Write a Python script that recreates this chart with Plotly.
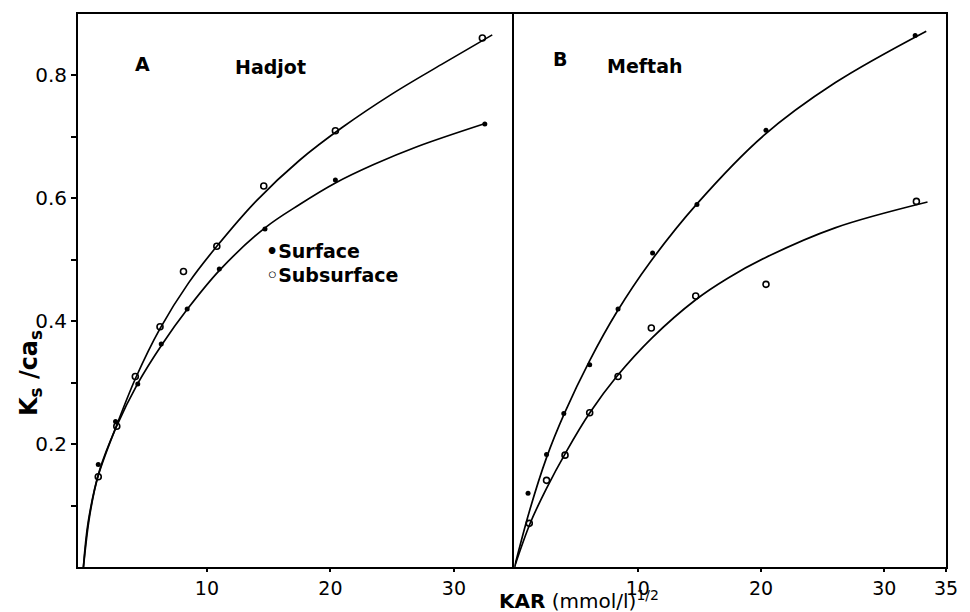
import plotly.graph_objects as go
from plotly.subplots import make_subplots

# ---------------- data ----------------
# Panel A : Hadjot
hadjot_surface_x = [1.2, 2.6, 4.4, 6.3, 8.4, 11.0, 14.7, 20.4, 32.5]
hadjot_surface_y = [0.167, 0.237, 0.298, 0.363, 0.42, 0.485, 0.55, 0.63, 0.721]
hadjot_subsurface_x = [1.2, 2.7, 4.2, 6.2, 8.1, 10.8, 14.6, 20.4, 32.3]
hadjot_subsurface_y = [0.147, 0.229, 0.31, 0.391, 0.481, 0.522, 0.62, 0.71, 0.861]
# fitted curves
hadjot_surface_fit_x = [0, 0.4, 1.3, 2.64, 4.38, 6.39, 8.39, 11.07, 14.7, 17.5, 20.4, 23.5, 27.0, 32.4]
hadjot_surface_fit_y = [0, 0.075, 0.157, 0.227, 0.298, 0.363, 0.419, 0.484, 0.552, 0.59, 0.625, 0.655, 0.684, 0.721]
hadjot_subsurface_fit_x = [0, 0.5, 1.16, 2.64, 4.24, 6.2, 8.5, 10.8, 14.0, 17.5, 21.0, 25.0, 29.0, 33.1]
hadjot_subsurface_fit_y = [0, 0.083, 0.146, 0.228, 0.308, 0.388, 0.462, 0.522, 0.596, 0.662, 0.716, 0.77, 0.818, 0.866]

# Panel B : Meftah
meftah_surface_x = [1.1, 2.6, 4.0, 6.1, 8.4, 11.2, 14.8, 20.4, 32.5]
meftah_surface_y = [0.12, 0.183, 0.25, 0.329, 0.42, 0.511, 0.59, 0.711, 0.865]
meftah_subsurface_x = [1.2, 2.6, 4.1, 6.1, 8.4, 11.1, 14.7, 20.4, 32.6]
meftah_subsurface_y = [0.071, 0.141, 0.182, 0.251, 0.31, 0.389, 0.441, 0.46, 0.595]
meftah_surface_fit_x = [0, 1.2, 2.6, 4.05, 6.1, 8.3, 11.0, 14.8, 20.2, 26.0, 33.4]
meftah_surface_fit_y = [0, 0.09, 0.178, 0.25, 0.336, 0.415, 0.496, 0.591, 0.702, 0.788, 0.872]
meftah_subsurface_fit_x = [0, 1.29, 2.6, 4.18, 6.11, 8.29, 11.16, 14.7, 17.3, 20.3, 26.0, 33.5]
meftah_subsurface_fit_y = [0, 0.072, 0.128, 0.187, 0.251, 0.31, 0.373, 0.435, 0.47, 0.503, 0.552, 0.594]

x_ticks_a = [10, 20, 30]
x_ticks_b = [10, 20, 30, 35]
y_tickvals = [0.1, 0.2, 0.3, 0.4, 0.5, 0.6, 0.7, 0.8]
y_ticktext = ["", "0.2", "", "0.4", "", "0.6", "", "0.8"]

# ---------------- figure ----------------
W, H = 970, 612
L, R, T, B = 78, 17, 12, 45
PW, PH = W - L - R, H - T - B
split = (518 - L) / PW


def px_x(px):
    return (px - L) / PW


def px_y(py):
    return (H - B - py) / PH


fig = make_subplots(rows=1, cols=2, shared_yaxes=True, horizontal_spacing=0)

line_style = dict(color="black", width=1.7, shape="spline", smoothing=1.0)
dot = dict(symbol="circle", size=5, color="black")
ring = dict(symbol="circle-open", size=6, color="black", line=dict(width=1.6, color="black"))

panels = [
    (1, hadjot_surface_fit_x, hadjot_surface_fit_y, hadjot_subsurface_fit_x, hadjot_subsurface_fit_y,
     hadjot_surface_x, hadjot_surface_y, hadjot_subsurface_x, hadjot_subsurface_y),
    (2, meftah_surface_fit_x, meftah_surface_fit_y, meftah_subsurface_fit_x, meftah_subsurface_fit_y,
     meftah_surface_x, meftah_surface_y, meftah_subsurface_x, meftah_subsurface_y),
]
for col, sfx, sfy, bfx, bfy, sx, sy, bx, by in panels:
    fig.add_trace(go.Scatter(x=sfx, y=sfy, mode="lines", line=line_style, showlegend=False,
                             hoverinfo="skip"), row=1, col=col)
    fig.add_trace(go.Scatter(x=bfx, y=bfy, mode="lines", line=line_style, showlegend=False,
                             hoverinfo="skip"), row=1, col=col)
    fig.add_trace(go.Scatter(x=sx, y=sy, mode="markers", marker=dot, name="Surface",
                             showlegend=False), row=1, col=col)
    fig.add_trace(go.Scatter(x=bx, y=by, mode="markers", marker=ring, name="Subsurface",
                             showlegend=False), row=1, col=col)

axis_common = dict(showline=True, linecolor="black", linewidth=2, mirror=True, showgrid=False,
                   zeroline=False, ticks="outside", ticklen=3, tickwidth=1.5, tickcolor="black",
                   tickfont=dict(family="DejaVu Sans", size=19, color="black"))

fig.update_layout(
    width=W, height=H,
    margin=dict(l=L, r=R, t=T, b=B),
    paper_bgcolor="white", plot_bgcolor="white",
    showlegend=False,
    xaxis=dict(axis_common, domain=[0, split], range=[-0.44, 34.9], tickvals=x_ticks_a),
    xaxis2=dict(axis_common, domain=[split, 1], range=[0, 35], tickvals=x_ticks_b),
    yaxis=dict(axis_common, range=[0, 0.9], tickvals=y_tickvals, ticktext=y_ticktext, ticklen=5,
               mirror=False, tickfont=dict(family="DejaVu Sans", size=20, color="black")),
    yaxis2=dict(axis_common, range=[0, 0.9], ticks="", showticklabels=False),
)

bold = dict(family="DejaVu Sans", size=19, color="black")
annotations = [
    dict(text="<b>A</b>", x=px_x(143), y=px_y(62), font=bold, xanchor="center", yanchor="middle"),
    dict(text="<b>Hadjot</b>", x=px_x(272), y=px_y(65), font=bold, xanchor="center", yanchor="middle"),
    dict(text="<b>B</b>", x=px_x(564), y=px_y(57), font=bold, xanchor="center", yanchor="middle"),
    dict(text="<b>Meftah</b>", x=px_x(650), y=px_y(64), font=bold, xanchor="center", yanchor="middle"),
    dict(text="<b>•Surface</b>", x=px_x(265), y=px_y(250), font=bold, xanchor="left", yanchor="middle"),
    dict(text="<b>◦Subsurface</b>", x=px_x(265), y=px_y(274), font=bold, xanchor="left", yanchor="middle"),
    dict(text="<b>K<sub>s</sub> /ca<sub>s</sub></b>", x=px_x(30), y=px_y(372), textangle=-90,
         font=dict(family="DejaVu Sans", size=24, color="black"), xanchor="center", yanchor="middle"),
    dict(text="<b>KAR</b> (mmol/l)<sup>1/2</sup>", x=px_x(500), y=px_y(600),
         font=dict(family="DejaVu Sans", size=20, color="black"), xanchor="left", yanchor="middle"),
]
for a in annotations:
    a.update(xref="paper", yref="paper", showarrow=False)
fig.update_layout(annotations=annotations)

fig.write_html("out.html")
